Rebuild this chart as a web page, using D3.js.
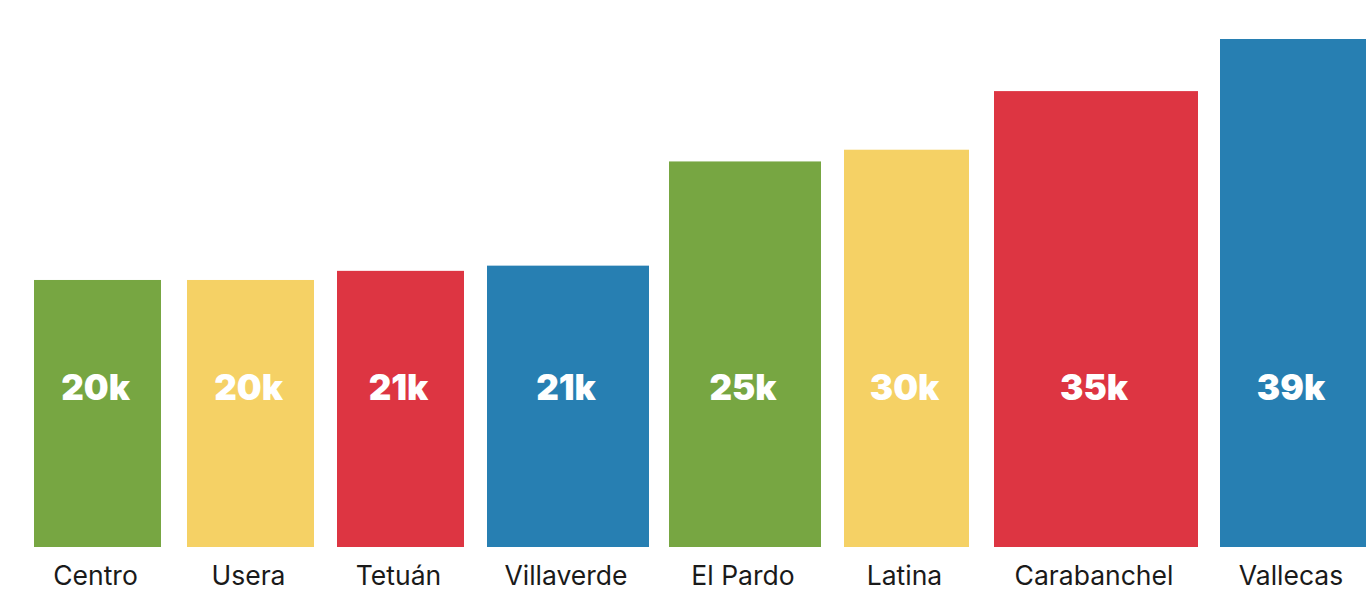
<!DOCTYPE html>
<html>
<head>
<meta charset="utf-8">
<script src="https://cdn.jsdelivr.net/npm/d3@7"></script>
<style>
  html, body { margin: 0; padding: 0; background: #fff; }
  svg { display: block; }
</style>
</head>
<body>
<svg id="chart"></svg>
<script>
const districts = ["Centro", "Usera", "Tetuán", "Villaverde", "El Pardo", "Latina", "Carabanchel", "Vallecas"];
const values = [20.5, 20.5, 21.2, 21.6, 29.6, 30.5, 35.0, 39.0]; // thousands
const valueLabels = ["20k", "20k", "21k", "21k", "25k", "30k", "35k", "39k"];
const colors = ["#77a642", "#f5d165", "#dd3542", "#277fb2", "#77a642", "#f5d165", "#dd3542", "#277fb2"];

// layout: relative bar widths and gaps (the original uses uneven bars)
const barWidths = [127, 127, 127, 162, 152, 125, 204, 146];
const gaps = [26, 23, 23, 20, 23, 25, 22];

const width = 1372;
const height = 593;
const margin = { left: 34, right: 6, top: 39, bottom: 46 };

const svg = d3.select("#chart").attr("width", width).attr("height", height);

// cumulative starts in layout units
let acc = 0;
const bars = districts.map((d, i) => {
  const b = { name: d, value: values[i], label: valueLabels[i], color: colors[i], start: acc, end: acc + barWidths[i] };
  acc += barWidths[i] + (gaps[i] || 0);
  return b;
});
const total = acc;

const x = d3.scaleLinear()
  .domain([0, total])
  .range([margin.left, width - margin.right]);

const y = d3.scaleLinear()
  .domain([0, d3.max(values)])
  .range([height - margin.bottom, margin.top]);

svg.selectAll("rect.bar")
  .data(bars)
  .join("rect")
  .attr("class", "bar")
  .attr("x", d => x(d.start))
  .attr("width", d => x(d.end) - x(d.start))
  .attr("y", d => y(d.value))
  .attr("height", d => y(0) - y(d.value))
  .attr("fill", d => d.color);

// value labels, all on one line
svg.selectAll("text.val")
  .data(bars)
  .join("text")
  .attr("class", "val")
  .attr("x", d => (x(d.start) + x(d.end)) / 2 - 2)
  .attr("y", 400)
  .attr("text-anchor", "middle")
  .attr("fill", "#fff")
  .style("font-family", "Inter, 'Open Sans', sans-serif")
  .style("font-weight", 900)
  .style("font-size", "35px")
  .text(d => d.label);

// category labels under the bars
svg.selectAll("text.cat")
  .data(bars)
  .join("text")
  .attr("class", "cat")
  .attr("x", d => (x(d.start) + x(d.end)) / 2 - 2)
  .attr("y", y(0) + 38)
  .attr("text-anchor", "middle")
  .attr("fill", "#1a1a1a")
  .style("font-family", "Inter, 'Noto Sans', sans-serif")
  .style("font-size", "26.5px")
  .text(d => d.name);
</script>
</body>
</html>
